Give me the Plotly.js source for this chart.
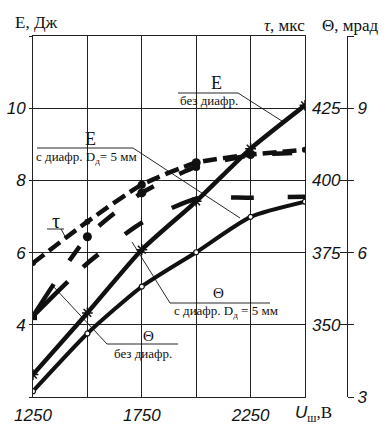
<!DOCTYPE html>
<html>
<head>
<meta charset="utf-8">
<script src="https://cdn.plot.ly/plotly-3.0.1.min.js"></script>
<style>html,body{margin:0;padding:0;background:#fff}</style>
</head>
<body>
<div id="chart" style="width:387px;height:425px"></div>
<script>
// Charging voltage, V
const voltage = [1250, 1500, 1750, 2000, 2250, 2500];
// Output energy, J (без диафрагмы / с диафрагмой 5 мм)
const energyOpen = [2.62, 4.33, 6.08, 7.42, 8.88, 10.08];
const energyAperture = [2.16, 3.76, 5.06, 6.01, 6.99, 7.41];
// Pulse duration, µs
const pulseLength = [371.4, 385.7, 398.5, 406.1, 408.9, 410.6];
// Divergence, mrad (без диафрагмы / с диафрагмой 5 мм)
const thetaOpen = [4.68, 6.33, 7.24, 7.78, 8.02, 8.08];
const thetaAperture = [4.68, 5.78, 6.62, 7.12, 7.14, 7.16];

// Tick labels
const voltageTickText = ['1250', '', '1750', '', '2250', ''];
const energyTickVals = [2, 4, 6, 8, 10, 12];
const energyTickText = ['', '4', '6', '8', '10', ''];
const tauTickVals = [325, 350, 375, 400, 425, 450];
const tauTickText = ['', '350', '375', '400', '425', ''];
const thetaTickVals = [3, 4.5, 6, 7.5, 9, 10.5];
const thetaTickText = ['3', '', '6', '', '9', ''];

const W = 387, H = 425;
const M = {l: 33, r: 20, t: 36, b: 28};
const pw = W - M.l - M.r, ph = H - M.t - M.b;
const plotRight = 305, sideAxisX = 347;
const px = x => (x - M.l) / pw;
const py = y => (H - M.b - y) / ph;

const ink = '#111';
const serif = "'Liberation Serif', 'Times New Roman', serif";
const sans = "'Liberation Sans', Arial, sans-serif";
const tickFont = {family: sans, size: 17, style: 'italic', color: ink};

const traces = [
  {
    x: voltage, y: energyOpen, yaxis: 'y', mode: 'lines+markers',
    line: {color: ink, width: 4.5, shape: 'spline', smoothing: 0.6},
    marker: {symbol: 'asterisk-open', size: 9, opacity: 1, line: {color: ink, width: 1.5}}
  },
  {
    x: voltage, y: energyAperture, yaxis: 'y', mode: 'lines+markers',
    line: {color: ink, width: 4, shape: 'spline', smoothing: 0.6},
    marker: {symbol: 'circle', size: 5, opacity: 1, color: '#fff', line: {color: ink, width: 1.2}}
  },
  {
    x: voltage, y: pulseLength, yaxis: 'y2', mode: 'lines+markers',
    line: {color: ink, width: 4.5, dash: '14px,6px', shape: 'spline', smoothing: 0.6},
    marker: {symbol: 'circle', size: [6, 6, 8, 9, 8, 6], opacity: 1, color: ink, line: {width: 0}}
  },
  {
    x: voltage, y: thetaOpen, yaxis: 'y3', mode: 'lines+markers',
    line: {color: ink, width: 4.5, dash: '38px,28px,18px,28px,20px,28px,20px,28px,20px,28px,20px,28px,20px', shape: 'spline', smoothing: 0.6},
    marker: {symbol: ['square', 'circle', 'circle', 'circle', 'circle', 'circle'], size: [8, 9, 9, 8, 7, 0], opacity: 1, color: ink, line: {width: 0}}
  },
  {
    x: voltage, y: thetaAperture, yaxis: 'y3', mode: 'lines',
    line: {color: ink, width: 4.5, dash: '49px,21px,20px,33px,22px,32px,29px,32px,23px,34px,20px', shape: 'spline', smoothing: 0.6}
  }
];

function label(x, y, text, size, opts) {
  return Object.assign({
    xref: 'paper', yref: 'paper', x: px(x), y: py(y), text: text,
    showarrow: false, xanchor: 'center', yanchor: 'middle',
    font: {family: serif, size: size, color: ink}
  }, opts || {});
}
function leader(x0, y0, x1, y1) {
  return {type: 'line', xref: 'paper', yref: 'paper',
    x0: px(x0), y0: py(y0), x1: px(x1), y1: py(y1),
    line: {color: ink, width: 0.9}};
}

const annotations = [
  // axis titles
  label(13, 23, 'E, Дж', 17, {xanchor: 'left'}),
  label(307, 25, '<i>τ</i>, мкс', 17, {xanchor: 'right'}),
  label(320, 25, 'Θ, мрад', 17, {xanchor: 'left'}),
  label(293, 414, '<span style="font-family:\'Liberation Sans\';font-style:italic">U</span><sub>ш</sub>,В', 17, {xanchor: 'left'}),
  // curve labels
  label(216, 83, 'E', 18),
  label(209, 101, 'без диафр.', 13),
  label(90, 139, 'E', 18),
  label(86, 157, 'с диафр. D<sub>д</sub>= 5 мм', 13),
  label(56, 221, 'τ', 20),
  label(218, 293, 'Θ', 15),
  label(226, 311, 'с диафр. D<sub>д</sub> = 5 мм', 13),
  label(148, 336, 'Θ', 15),
  label(143, 353, 'без диафр.', 13)
];

const shapes = [
  leader(178, 93, 238, 93), leader(238, 93, 285, 123),
  leader(37, 148, 133, 148), leader(133, 148, 240, 218),
  leader(47, 229, 64, 229), leader(61, 229, 66, 238),
  leader(170, 303, 270, 303), leader(170, 303, 132, 242),
  leader(107, 344, 178, 344), leader(107, 344, 52, 285)
];

const layout = {
  width: W, height: H, margin: M,
  paper_bgcolor: '#fff', plot_bgcolor: '#fff',
  showlegend: false,
  xaxis: {
    domain: [0, px(plotRight)], range: [1250, 2500],
    tickvals: voltage, ticktext: voltageTickText,
    showgrid: true, gridcolor: '#222', gridwidth: 1,
    showline: true, mirror: true, linecolor: '#222', linewidth: 1,
    zeroline: false, ticks: '', tickfont: tickFont, ticklabelstandoff: 3
  },
  yaxis: {
    range: [2, 12], tickvals: energyTickVals, ticktext: energyTickText,
    showgrid: true, gridcolor: '#222', gridwidth: 1,
    showline: true, mirror: true, linecolor: '#222', linewidth: 1,
    zeroline: false, ticks: 'outside', ticklen: 3, tickcolor: '#222',
    tickfont: tickFont
  },
  yaxis2: {
    overlaying: 'y', anchor: 'free', position: px(sideAxisX), side: 'right',
    range: [325, 450], tickvals: tauTickVals, ticktext: tauTickText,
    showgrid: false, zeroline: false, showline: false,
    ticks: 'inside', ticklen: 7, tickcolor: '#222', tickwidth: 1,
    ticklabelposition: 'inside', tickfont: tickFont
  },
  yaxis3: {
    overlaying: 'y', anchor: 'free', position: px(sideAxisX), side: 'right',
    range: [3, 10.5], tickvals: thetaTickVals, ticktext: thetaTickText,
    showgrid: false, zeroline: false,
    showline: true, linecolor: '#222', linewidth: 1,
    ticks: 'outside', ticklen: 6, tickcolor: '#222', tickwidth: 1,
    tickfont: tickFont
  },
  annotations: annotations,
  shapes: shapes
};

Plotly.newPlot('chart', traces, layout, {staticPlot: true, displayModeBar: false});
</script>
</body>
</html>
